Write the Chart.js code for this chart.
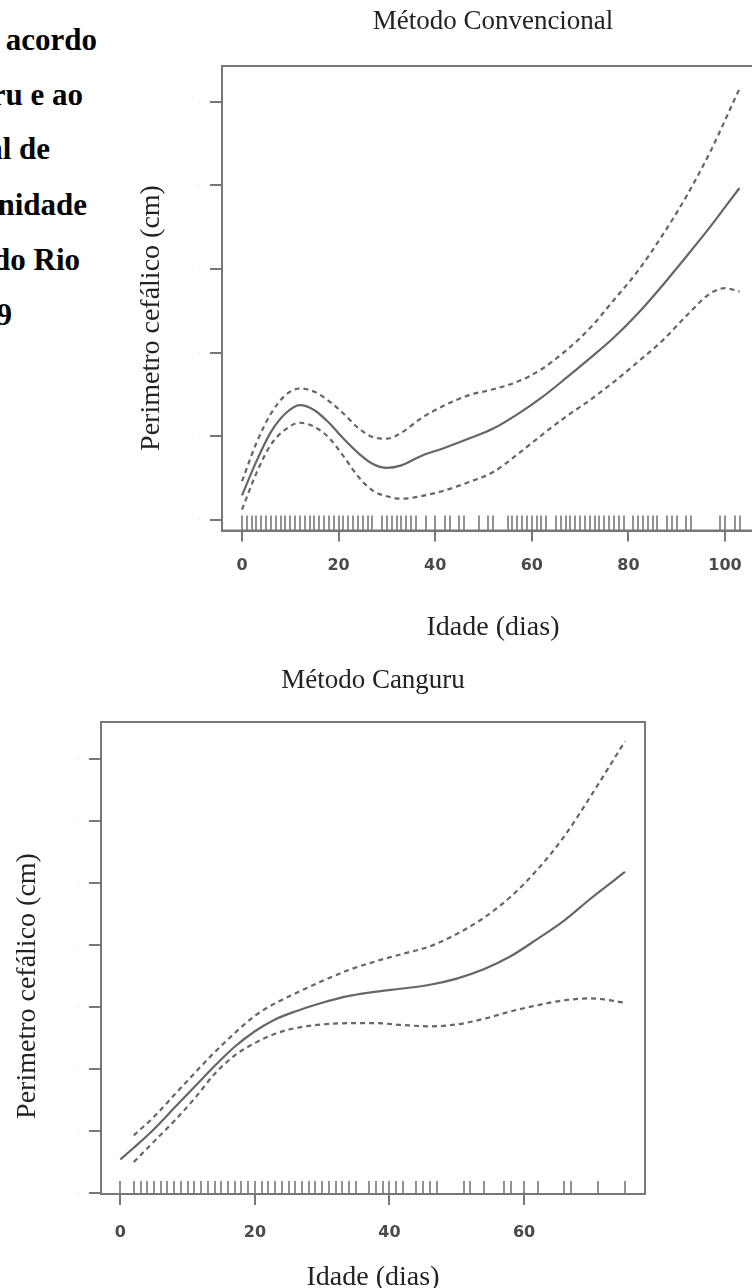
<!DOCTYPE html>
<html lang="pt">
<head>
<meta charset="utf-8">
<script src="https://cdn.jsdelivr.net/npm/chart.js@4.4.1/dist/chart.umd.min.js"></script>
<style>
  html, body { margin:0; padding:0; background:#fff; }
  body { width:752px; height:1288px; overflow:hidden; position:relative; }
  canvas { position:absolute; left:0; }
  #conv { top:0; }
  #kang { top:650px; }
  .cap { position:absolute; left:-400px; text-align:right; white-space:nowrap;
         font:bold 31px "Liberation Serif", serif; color:#000; line-height:31px; }
</style>
</head>
<body>
<!-- caption text, cut at the left edge like in the scan -->
<div class="cap" style="top:24px; width:497px;">de acordo</div>
<div class="cap" style="top:79px; width:483px;">Canguru e ao</div>
<div class="cap" style="top:133px; width:450px;">Convencional de</div>
<div class="cap" style="top:189px; width:487px;">Unidade</div>
<div class="cap" style="top:244px; width:480px;">do Rio</div>
<div class="cap" style="top:299px; width:412px;">2019</div>

<canvas id="conv" width="764" height="644"></canvas>
<canvas id="kang" width="660" height="644"></canvas>

<script>
// -------------------- data --------------------
// Método Convencional (idade em dias, curva suavizada e limites)
const convDias     = [0, 3, 6, 9, 12, 15, 18, 21, 24, 27, 30, 33, 37, 42, 47, 52, 57, 62, 67, 72, 77, 82, 87, 92, 97, 100, 103];
const convEstimado = [0.29, 0.70, 1.05, 1.27, 1.37, 1.31, 1.16, 0.97, 0.80, 0.67, 0.62, 0.65, 0.76, 0.86, 0.97, 1.09, 1.26, 1.46, 1.69, 1.93, 2.18, 2.47, 2.80, 3.15, 3.51, 3.74, 3.97];
const convSuperior = [0.46, 0.92, 1.27, 1.49, 1.57, 1.53, 1.42, 1.27, 1.10, 0.99, 0.97, 1.04, 1.21, 1.37, 1.49, 1.56, 1.65, 1.80, 2.02, 2.29, 2.63, 2.98, 3.40, 3.87, 4.41, 4.78, 5.16];
const convInferior = [0.12, 0.56, 0.90, 1.08, 1.16, 1.11, 0.98, 0.76, 0.52, 0.35, 0.28, 0.25, 0.28, 0.35, 0.45, 0.57, 0.78, 1.01, 1.23, 1.43, 1.65, 1.89, 2.14, 2.44, 2.71, 2.77, 2.73];
const convRug = [0,1,2,3,4,5,6,7,8,9,10,11,12,13,14,15,16,17,18,19,20,21,22,23,24,25,26,27,
  29,30,31,32,33,34,35,36,38,40,42,43,45,46,49,51,52,55,56,57,58,59,60,61,62,63,
  65,66,67,68,69,70,71,72,73,74,75,76,77,78,79,81,82,83,84,85,86,88,89,90,92,93,99,100,102,103];
const convXTicks = [0, 20, 40, 60, 80, 100];
const convYTicks = [0, 1, 2, 3, 4, 5];

// Método Canguru
const kangDias     = [0, 2, 5, 8, 11, 14, 17, 20, 23, 26, 30, 34, 38, 42, 46, 50, 54, 58, 62, 66, 70, 75];
const kangEstimado = [0.54, 0.73, 1.03, 1.37, 1.71, 2.05, 2.36, 2.61, 2.80, 2.93, 3.07, 3.18, 3.25, 3.30, 3.36, 3.46, 3.61, 3.82, 4.10, 4.40, 4.76, 5.18];
const kangSuperior = [null, 0.93, 1.23, 1.58, 1.93, 2.27, 2.58, 2.86, 3.06, 3.22, 3.42, 3.60, 3.74, 3.86, 3.98, 4.18, 4.44, 4.78, 5.22, 5.76, 6.42, 7.29];
const kangInferior = [null, 0.50, 0.83, 1.16, 1.52, 1.92, 2.22, 2.42, 2.57, 2.66, 2.72, 2.74, 2.74, 2.71, 2.69, 2.72, 2.81, 2.93, 3.03, 3.11, 3.14, 3.07];
const kangRug = [0,2,3,4,5,6,7,8,9,10,11,12,13,14,15,16,17,18,19,20,21,22,23,24,25,26,27,28,29,30,31,32,33,34,35,
  37,38,39,40,41,42,44,45,46,47,51,52,54,57,58,60,62,66,67,71,75];
const kangXTicks = [0, 20, 40, 60];
const kangYTicks = [0, 1, 2, 3, 4, 5, 6, 7];

// -------------------- helpers --------------------
const GRAY = '#666';
const AXIS = '#777';
const SERIF = '"Liberation Serif", "Times New Roman", serif';

function pts(xs, ys){ return xs.map((x,i)=>({x:x, y:ys[i]})); }

function curve(data, dashed){
    return { data:data, borderColor:GRAY, borderWidth:2.2, borderDash: dashed ? [5,4] : [],
             pointRadius:0, fill:false, cubicInterpolationMode:'monotone', spanGaps:false };
}

// box around the plot, rug marks and the rotated y title
const framePlugin = {
    id:'frame',
    afterDatasetsDraw(chart){
        const o = chart.options.plugins.frame;
        const {ctx, chartArea:a} = chart;
        const xs = chart.scales.x;
        ctx.save();
        ctx.strokeStyle = AXIS; ctx.lineWidth = 2;
        ctx.strokeRect(a.left, a.top, a.right - a.left, a.bottom - a.top);
        ctx.lineWidth = 1.6; ctx.strokeStyle = '#777';
        ctx.beginPath();
        o.rug.forEach(d=>{
            const x = Math.round(xs.getPixelForValue(d));
            ctx.moveTo(x, a.bottom); ctx.lineTo(x, a.bottom - o.rugLen);
        });
        ctx.stroke();
        ctx.fillStyle = '#222';
        ctx.font = '28px ' + SERIF;
        ctx.textAlign = 'center'; ctx.textBaseline = 'middle';
        ctx.translate(o.yTitleX, o.yTitleY);
        ctx.rotate(-Math.PI/2);
        ctx.fillText('Perimetro cefálico (cm)', 0, 0);
        ctx.restore();
    }
};

function makeChart(id, cfg){
    return new Chart(document.getElementById(id), {
        type:'line',
        data:{ datasets:[ curve(pts(cfg.dias, cfg.est), false),
                          curve(pts(cfg.dias, cfg.sup), true),
                          curve(pts(cfg.dias, cfg.inf), true) ] },
        plugins:[framePlugin],
        options:{
            responsive:false, animation:false, events:[],
            layout:{ padding:{ left:0, right:cfg.padRight, top:0, bottom:0 } },
            plugins:{
                legend:{display:false}, tooltip:{enabled:false},
                title:{ display:true, text:cfg.title, fullSize:false, color:'#222',
                        font:{family:SERIF, size:27, weight:'normal'},
                        padding:{top:cfg.titleTop, bottom:cfg.titleBottom} },
                frame:{ rug:cfg.rug, rugLen:cfg.rugLen, yTitleX:cfg.yTitleX, yTitleY:cfg.yTitleY }
            },
            scales:{
                x:{ type:'linear', min:cfg.xMin, max:cfg.xMax,
                    afterBuildTicks: s => { s.ticks = cfg.xTicks.map(v=>({value:v})); },
                    afterFit: s => { s.height = cfg.xHeight; },
                    grid:{ drawOnChartArea:false, tickLength:11, color:AXIS, lineWidth:2 },
                    border:{ color:AXIS, width:2 },
                    ticks:{ font:{family:'"DejaVu Sans", sans-serif', size:16, weight:'bold'}, color:'#4a4a4a',
                            padding:cfg.tickPad, maxRotation:0, callback: v => String(v) },
                    title:{ display:true, text:'Idade (dias)', color:'#222',
                            font:{family:SERIF, size:28}, padding:0 } },
                y:{ type:'linear', min:cfg.yMin, max:cfg.yMax,
                    afterBuildTicks: s => { s.ticks = cfg.yTicks.map(v=>({value:v})); },
                    afterFit: s => { s.width = cfg.yWidth; },
                    grid:{ drawOnChartArea:false, tickLength:12, color:AXIS, lineWidth:2 },
                    border:{ color:AXIS, width:2 },
                    // the scan shows only faint smudges where the numbers were
                    ticks:{ font:{size:9}, color:'#d8d8d8', padding:9, callback: () => '·' } }
            }
        }
    });
}

// -------------------- charts --------------------
makeChart('conv', {
    title:'Método Convencional', dias:convDias, est:convEstimado, sup:convSuperior, inf:convInferior,
    rug:convRug, rugLen:15, xTicks:convXTicks, yTicks:convYTicks,
    xMin:-4.14, xMax:108.07, yMin:-0.13, yMax:5.43,
    yWidth:222, padRight:0, xHeight:113.5, tickPad:15,
    titleTop:5.8, titleBottom:27.8, yTitleX:152, yTitleY:318
});

makeChart('kang', {
    title:'Método Canguru', dias:kangDias, est:kangEstimado, sup:kangSuperior, inf:kangInferior,
    rug:kangRug, rugLen:13, xTicks:kangXTicks, yTicks:kangYTicks,
    xMin:-2.87, xMax:77.97, yMin:-0.016, yMax:7.6,
    yWidth:101, padRight:15, xHeight:100, tickPad:17.8,
    titleTop:14.8, titleBottom:24.8, yTitleX:28, yTitleY:336
});
</script>
</body>
</html>
